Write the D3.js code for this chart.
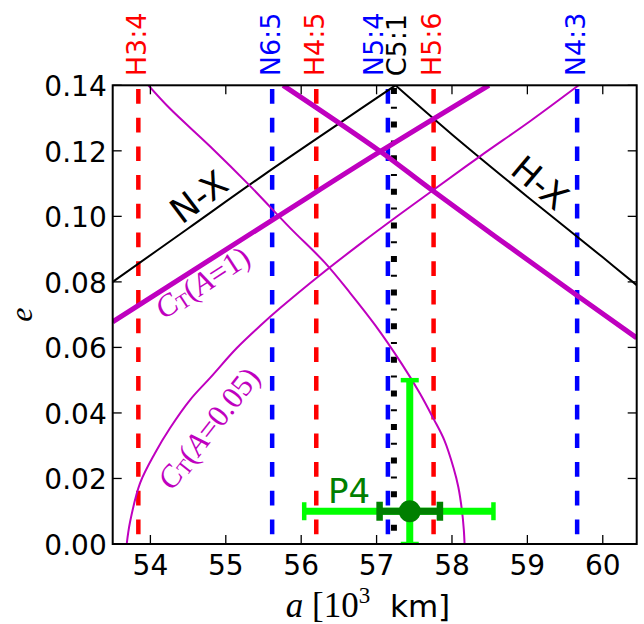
<!DOCTYPE html>
<html>
<head>
<meta charset="utf-8">
<script src="https://cdn.jsdelivr.net/npm/d3@7"></script>
<style>
  body { margin: 0; background: #fff; }
</style>
</head>
<body>
<svg id="chart" width="644" height="624"></svg>
<script>
// axis ranges and ticks
const aDomain = [53.5, 60.45];
const eDomain = [0, 0.14];
const aTicks = [54, 55, 56, 57, 58, 59, 60];
const eTicks = [0, 0.02, 0.04, 0.06, 0.08, 0.10, 0.12, 0.14];

// resonance locations (10^3 km)
const resonanceNames = ['H3:4', 'N6:5', 'H4:5', 'N5:4', 'C5:1', 'H5:6', 'N4:3'];
const resonanceA = [53.84, 55.615, 56.2, 57.15, 57.23, 57.756, 59.66];

// orbit-crossing lines, [a, e]
const nixCrossing = [[53.5, 0.080], [54.5, 0.0963], [55.5, 0.1126], [56.5, 0.1283], [57.25, 0.140]];
const hydraCrossing = [[57.25, 0.140], [58, 0.125], [59, 0.106], [60, 0.0875], [60.45, 0.079]];

// C_T contours, [a, e]
const ctA1Rising = [[53.5, 0.0678], [55.72, 0.1004], [57.05, 0.1198], [58.49, 0.14]];
const ctA1Falling = [[55.76, 0.14], [57.05, 0.1198], [57.71, 0.1084], [59.13, 0.0846], [60.45, 0.0629]];
const ctA005Rising = [[53.686, 0], [53.73, 0.0067], [53.863, 0.0186], [54.062, 0.0278], [54.261, 0.0354],
  [54.527, 0.044], [54.792, 0.0507], [55.146, 0.0598], [55.456, 0.0666], [55.721, 0.072],
  [56.252, 0.0821], [56.783, 0.0916], [57.314, 0.1007], [57.739, 0.1078], [58.376, 0.1184],
  [59.04, 0.1291], [59.68, 0.14]];
const ctA005Falling = [[53.973, 0.14], [54.259, 0.1329], [54.79, 0.1214], [55.321, 0.1093], [55.852, 0.0965],
  [56.317, 0.0858], [56.65, 0.0766], [56.981, 0.0668], [57.336, 0.0549], [57.579, 0.0458],
  [57.756, 0.0382], [57.898, 0.0317], [58.021, 0.0232], [58.084, 0.0174], [58.133, 0.0101],
  [58.157, 0.0043], [58.167, 0]];

// P4 estimate
const p4A = 57.44;
const p4E = 0.01;
const p4AErrWide = [56.04, 58.55];
const p4EErrWide = [0, 0.05];
const p4AErrNarrow = [57.04, 57.84];

const svg = d3.select('#chart');
const margin = { top: 85.3, right: 7.3, bottom: 80, left: 112.7 };
const width = 644 - margin.left - margin.right;
const height = 624 - margin.top - margin.bottom;

const x = d3.scaleLinear().domain(aDomain).range([0, width]);
const y = d3.scaleLinear().domain(eDomain).range([height, 0]);

const g = svg.append('g').attr('transform', `translate(${margin.left},${margin.top})`);

g.append('clipPath').attr('id', 'plotclip')
  .append('rect').attr('width', width).attr('height', height);

const plot = g.append('g').attr('clip-path', 'url(#plotclip)');

const line = d3.line().x(d => x(d[0])).y(d => y(d[1])).curve(d3.curveCatmullRom.alpha(0.5));

const resColor = name => ({ H: '#ff0000', N: '#0000ff', C: '#000000' })[name[0]];

// resonance lines
resonanceNames.forEach((name, i) => {
  const isC = name[0] === 'C';
  plot.append('line')
    .attr('x1', x(resonanceA[i])).attr('x2', x(resonanceA[i]))
    .attr('y1', y(eDomain[1])).attr('y2', y(eDomain[0]))
    .attr('stroke', resColor(name))
    .attr('stroke-width', isC ? 6 : 4.5)
    .attr('stroke-dasharray', isC ? '6,12.8,2,12.8' : '14.7,14')
    .attr('stroke-dashoffset', isC ? 30.9 : 25);
});

// crossing lines
[nixCrossing, hydraCrossing].forEach(pts => {
  plot.append('path').attr('d', line(pts))
    .attr('fill', 'none').attr('stroke', '#000').attr('stroke-width', 2);
});

// C_T contours
[ctA1Rising, ctA1Falling].forEach(pts => {
  plot.append('path').attr('d', line(pts))
    .attr('fill', 'none').attr('stroke', '#bf00bf').attr('stroke-width', 5);
});
[ctA005Rising, ctA005Falling].forEach(pts => {
  plot.append('path').attr('d', line(pts))
    .attr('fill', 'none').attr('stroke', '#bf00bf').attr('stroke-width', 2);
});

// P4 error bars
const lime = '#00ff00';
const dkgreen = '#007f00';
plot.append('line')
  .attr('x1', x(p4A)).attr('x2', x(p4A))
  .attr('y1', y(p4EErrWide[0])).attr('y2', y(p4EErrWide[1]))
  .attr('stroke', lime).attr('stroke-width', 7);
plot.append('line')
  .attr('x1', x(p4AErrWide[0])).attr('x2', x(p4AErrWide[1]))
  .attr('y1', y(p4E)).attr('y2', y(p4E))
  .attr('stroke', lime).attr('stroke-width', 7);
p4EErrWide.forEach(v => {
  plot.append('line')
    .attr('x1', x(p4A) - 9).attr('x2', x(p4A) + 9)
    .attr('y1', y(v)).attr('y2', y(v))
    .attr('stroke', lime).attr('stroke-width', 4.5);
});
p4AErrWide.forEach(v => {
  plot.append('line')
    .attr('x1', x(v)).attr('x2', x(v))
    .attr('y1', y(p4E) - 9).attr('y2', y(p4E) + 9)
    .attr('stroke', lime).attr('stroke-width', 4.5);
});
plot.append('line')
  .attr('x1', x(p4AErrNarrow[0])).attr('x2', x(p4AErrNarrow[1]))
  .attr('y1', y(p4E)).attr('y2', y(p4E))
  .attr('stroke', dkgreen).attr('stroke-width', 7);
p4AErrNarrow.forEach(v => {
  plot.append('line')
    .attr('x1', x(v)).attr('x2', x(v))
    .attr('y1', y(p4E) - 9.5).attr('y2', y(p4E) + 9.5)
    .attr('stroke', dkgreen).attr('stroke-width', 6.5);
});
plot.append('circle')
  .attr('cx', x(p4A)).attr('cy', y(p4E)).attr('r', 11)
  .attr('fill', dkgreen);

// frame and ticks (inward, all four sides)
g.append('rect').attr('width', width).attr('height', height)
  .attr('fill', 'none').attr('stroke', '#000').attr('stroke-width', 2);

const tickLen = 9;
aTicks.forEach(t => {
  g.append('line').attr('x1', x(t)).attr('x2', x(t)).attr('y1', height).attr('y2', height - tickLen)
    .attr('stroke', '#000').attr('stroke-width', 1.3);
  g.append('line').attr('x1', x(t)).attr('x2', x(t)).attr('y1', 0).attr('y2', tickLen)
    .attr('stroke', '#000').attr('stroke-width', 1.3);
  g.append('text').attr('x', x(t)).attr('y', height + 31)
    .attr('text-anchor', 'middle')
    .style('font-family', 'DejaVu Sans').style('font-size', '28px')
    .text(t);
});
eTicks.forEach(t => {
  g.append('line').attr('x1', 0).attr('x2', tickLen).attr('y1', y(t)).attr('y2', y(t))
    .attr('stroke', '#000').attr('stroke-width', 1.3);
  g.append('line').attr('x1', width).attr('x2', width - tickLen).attr('y1', y(t)).attr('y2', y(t))
    .attr('stroke', '#000').attr('stroke-width', 1.3);
  g.append('text').attr('x', -6).attr('y', y(t) + 11)
    .attr('text-anchor', 'end')
    .style('font-family', 'DejaVu Sans').style('font-size', '28px')
    .text(d3.format('.2f')(t));
});

// resonance labels on top
const labelNudge = { 'N5:4': -14, 'C5:1': 3 };
resonanceNames.forEach((name, i) => {
  const lx = x(resonanceA[i]) + (labelNudge[name] !== undefined ? labelNudge[name] : -2);
  g.append('text')
    .attr('transform', `translate(${lx},-9) rotate(-90)`)
    .attr('text-anchor', 'start')
    .attr('dominant-baseline', 'central')
    .attr('fill', resColor(name))
    .style('font-family', 'DejaVu Sans').style('font-size', '27px')
    .text(name);
});

// curve labels
svg.append('text')
  .attr('transform', 'translate(199,197) rotate(-37)')
  .attr('text-anchor', 'middle').attr('dominant-baseline', 'central')
  .style('font-family', 'DejaVu Sans').style('font-size', '35px')
  .text('N-X');
svg.append('text')
  .attr('transform', 'translate(540,183) rotate(40)')
  .attr('text-anchor', 'middle').attr('dominant-baseline', 'central')
  .style('font-family', 'DejaVu Sans').style('font-size', '35px')
  .text('H-X');

function ctLabel(tx, ty, rot, aText) {
  const t = svg.append('text')
    .attr('transform', `translate(${tx},${ty}) rotate(${rot})`)
    .attr('text-anchor', 'middle').attr('dominant-baseline', 'central')
    .attr('fill', '#bf00bf')
    .style('font-family', 'Liberation Serif').style('font-size', '31px');
  t.append('tspan').style('font-style', 'italic').text('C');
  t.append('tspan').attr('dy', 6).style('font-size', '21px').text('T');
  t.append('tspan').attr('dy', -6).text('(');
  t.append('tspan').style('font-style', 'italic').text('A');
  t.append('tspan').text('=' + aText + ')');
}
ctLabel(202, 282, -33, '1');
ctLabel(208, 428, -52, '0.05');

// P4 label
svg.append('text')
  .attr('x', 328).attr('y', 503)
  .attr('fill', dkgreen)
  .style('font-family', 'DejaVu Sans').style('font-size', '34px')
  .text('P4');

// axis titles
const xl = svg.append('text')
  .attr('x', 368).attr('y', 617)
  .attr('text-anchor', 'middle')
  .style('font-size', '35px');
xl.append('tspan').style('font-family', 'Liberation Serif').style('font-style', 'italic').text('a');
xl.append('tspan').style('font-family', 'Liberation Serif').text(' [10');
xl.append('tspan').attr('dy', -14).style('font-family', 'Liberation Serif').style('font-size', '23px').text('3');
xl.append('tspan').attr('dy', 14).style('font-family', 'DejaVu Sans').style('font-size', '31px').text('\u00a0\u00a0km]');

svg.append('text')
  .attr('transform', 'translate(32,314.7) rotate(-90)')
  .attr('text-anchor', 'middle')
  .style('font-family', 'Liberation Serif').style('font-style', 'italic').style('font-size', '32px')
  .text('e');
</script>
</body>
</html>
